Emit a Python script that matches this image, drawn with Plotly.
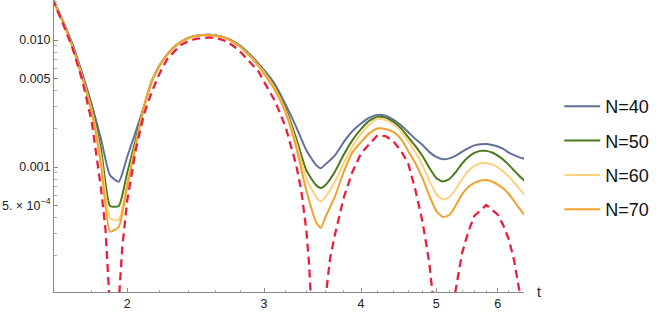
import plotly.graph_objects as go

# ---- data ----
t_n = [1.6, 1.65, 1.7, 1.75, 1.8, 1.85, 1.9, 1.95, 2.0, 2.05, 2.1, 2.15, 2.2, 2.25, 2.3, 2.35,
       2.4, 2.45, 2.5, 2.55, 2.6, 2.65, 2.7, 2.75, 2.8, 2.85, 2.9, 2.95, 3.0, 3.1, 3.2, 3.3,
       3.4, 3.5, 3.55, 3.6, 3.7, 3.8, 3.9, 4.0, 4.1, 4.2, 4.3, 4.4, 4.5, 4.6, 4.7, 4.8, 4.9,
       5.0, 5.1, 5.2, 5.3, 5.4, 5.5, 5.6, 5.7, 5.8, 5.9, 6.0, 6.1, 6.2, 6.3, 6.4, 6.5]

n40 = [0.0218, 0.0144, 0.00927, 0.00544, 0.0031, 0.00166, 0.00086, 0.000766, 0.00121, 0.00189,
       0.00296, 0.00475, 0.0063, 0.00768, 0.00886, 0.00978, 0.01042, 0.0108, 0.01096, 0.0110,
       0.01087, 0.01062, 0.0102, 0.00962, 0.00897, 0.00812, 0.00735, 0.00653, 0.00581, 0.00446,
       0.00308, 0.00207, 0.00136, 0.00104, 0.000977, 0.00105, 0.00123, 0.00157, 0.00192, 0.0022,
       0.00245, 0.00257, 0.00253, 0.00236, 0.00214, 0.00189, 0.00166, 0.00149, 0.00131, 0.0012,
       0.00115, 0.00117, 0.00123, 0.00132, 0.00141, 0.00148, 0.00151, 0.00152, 0.00149, 0.00145,
       0.00139, 0.0013, 0.00124, 0.00119, 0.00116]

n50 = [0.0216, 0.0142, 0.0090, 0.0052, 0.0029, 0.00138, 0.000493, 0.000493, 0.000905, 0.00164,
       0.00294, 0.00472, 0.00627, 0.00765, 0.00884, 0.00976, 0.0104, 0.01078, 0.01094, 0.01098,
       0.01084, 0.01058, 0.01015, 0.00955, 0.00888, 0.00801, 0.00722, 0.0064, 0.00565, 0.00427,
       0.00286, 0.00169, 0.000946, 0.000721, 0.000684, 0.000721, 0.000914, 0.00125, 0.00163, 0.00199,
       0.00232, 0.00248, 0.00245, 0.00228, 0.00203, 0.00172, 0.00146, 0.00122, 0.000982, 0.000819,
       0.000769, 0.000805, 0.000914, 0.00107, 0.0012, 0.00129, 0.00134, 0.00134, 0.0013, 0.00123,
       0.00114, 0.00104, 0.000937, 0.000849, 0.000776]

n60 = [0.0214, 0.0141, 0.0089, 0.0051, 0.00278, 0.0012, 0.000395, 0.000383, 0.000764, 0.00151,
       0.00293, 0.0047, 0.00625, 0.00763, 0.00882, 0.00974, 0.01038, 0.01076, 0.01092, 0.01096,
       0.01082, 0.01056, 0.01012, 0.0095, 0.00882, 0.00795, 0.00715, 0.00633, 0.0056, 0.00415,
       0.00276, 0.00155, 0.000819, 0.000581, 0.000535, 0.000581, 0.000762, 0.00107, 0.00146, 0.00182,
       0.00216, 0.00241, 0.00234, 0.00218, 0.00192, 0.0016, 0.00131, 0.00104, 0.000777, 0.000613,
       0.000554, 0.000581, 0.000671, 0.000805, 0.000931, 0.00102, 0.00107, 0.00107, 0.00105, 0.000992,
       0.000922, 0.000842, 0.000755, 0.000671, 0.000603]

n70 = [0.0213, 0.0140, 0.0088, 0.0050, 0.00267, 0.00104, 0.00031, 0.000337, 0.000713, 0.00145,
       0.00292, 0.00468, 0.00624, 0.00762, 0.00881, 0.00973, 0.01037, 0.01075, 0.01091, 0.01095,
       0.0108, 0.01054, 0.01009, 0.00947, 0.00878, 0.0079, 0.00709, 0.00626, 0.00543, 0.00402,
       0.00266, 0.00144, 0.000659, 0.000369, 0.000331, 0.000404, 0.000581, 0.000914, 0.00131, 0.00157,
       0.00184, 0.00201, 0.00199, 0.00189, 0.00167, 0.00134, 0.00107, 0.000818, 0.000591, 0.000451,
       0.000404, 0.000419, 0.000502, 0.000612, 0.000696, 0.000749, 0.000783, 0.000791, 0.000769, 0.000728,
       0.000677, 0.000613, 0.000539, 0.000471, 0.000419]

t_exact = [1.6, 1.65, 1.7, 1.75, 1.8, 1.85, 1.875, 1.895, 1.923, 1.953, 1.97, 2.0, 2.05, 2.1, 2.15,
           2.2, 2.25, 2.3, 2.35, 2.4, 2.45, 2.5, 2.55, 2.6, 2.65, 2.7, 2.75, 2.8, 2.85, 2.9, 2.95,
           3.0, 3.1, 3.2, 3.3, 3.35, 3.4, 3.43, 3.445, 3.525, 3.605, 3.65, 3.7, 3.8, 3.9, 4.0, 4.1,
           4.2, 4.3, 4.4, 4.5, 4.6, 4.7, 4.8, 4.85, 4.9, 4.945, 5.12, 5.285, 5.35, 5.4, 5.5, 5.6,
           5.7, 5.8, 5.9, 6.0, 6.1, 6.2, 6.3, 6.4, 6.5]
exact = [0.0212, 0.01377, 0.00864, 0.00483, 0.00226, 0.00068, 0.00032, 0.0001, 1e-7, 0.0001,
         0.00023, 0.00055, 0.00135, 0.00257, 0.0039, 0.00543, 0.00702, 0.00815, 0.00922, 0.00982,
         0.01021, 0.0104, 0.0105, 0.01033, 0.01004, 0.00955, 0.00881, 0.008, 0.00716, 0.00638,
         0.00568, 0.00469, 0.0033, 0.00205, 0.00104, 0.000659, 0.000325, 0.000169, 0.0001, 1e-7,
         0.0001, 0.000192, 0.000289, 0.000573, 0.000918, 0.00128, 0.00152, 0.00178, 0.00175, 0.0016,
         0.00135, 0.00107, 0.000659, 0.000371, 0.000254, 0.000173, 0.0001, 1e-7, 0.0001, 0.000155,
         0.000212, 0.000311, 0.000414, 0.000455, 0.000502, 0.000461, 0.000421, 0.000348, 0.00027,
         0.000183, 0.000105, 0.00002]

series_names = ["N=40", "N=50", "N=60", "N=70"]
series_vals = [n40, n50, n60, n70]
series_colors = ["#62709a", "#4b7a1c", "#fdd17e", "#f2a22c"]
exact_color = "#e8203c"

x_ticks = [2, 3, 4, 5, 6]
x_ticktext = ["2", "3", "4", "5", "6"]
x_minor = [1.8, 2.2, 2.4, 2.6, 2.8, 3.2, 3.4, 3.6, 3.8, 4.2, 4.4, 4.6, 4.8,
           5.2, 5.4, 5.6, 5.8, 6.2, 6.4]
y_ticks = [0.01, 0.005, 0.001, 0.0005]
y_ticktext = ["0.010", "0.005", "0.001", "5. × 10<sup>−4</sup>"]
y_minor = [0.0002, 0.0003, 0.0004, 0.0006, 0.0007, 0.0008, 0.0009,
           0.002, 0.003, 0.004, 0.006, 0.007, 0.008, 0.009, 0.02]

fig = go.Figure()
for name, vals, col in zip(series_names, series_vals, series_colors):
    fig.add_trace(go.Scatter(x=t_n, y=vals, mode="lines", name=name,
                             line=dict(color=col, width=2, shape="spline", smoothing=0.5),
                             legendgroup=name))
fig.add_trace(go.Scatter(x=t_exact, y=exact, mode="lines", showlegend=False,
                         line=dict(color=exact_color, width=2.3, dash="8px,5px")))

font_fam = "Liberation Sans, Arial, sans-serif"
fig.update_layout(
    width=663, height=315,
    margin=dict(l=54, r=139, t=0, b=23),
    paper_bgcolor="white", plot_bgcolor="white",
    font=dict(family=font_fam, size=12.5, color="#222"),
    showlegend=True,
    legend=dict(x=1.075, y=0.459, xanchor="left", yanchor="middle",
                font=dict(size=18, color="#111"), tracegroupgap=8, itemwidth=36,
                bgcolor="rgba(0,0,0,0)"),
    xaxis=dict(type="log", range=[0.2066, 0.8120], showgrid=False, zeroline=False,
               showline=True, linecolor="#8a8a8a", linewidth=1,
               tickmode="array", tickvals=x_ticks, ticktext=x_ticktext,
               ticks="inside", ticklen=4, tickcolor="#8a8a8a", tickwidth=1,
               minor=dict(tickmode="array", tickvals=x_minor, ticks="inside", ticklen=2.5,
                          tickcolor="#aaaaaa", showgrid=False),
               tickfont=dict(size=12.5, color="#222")),
    yaxis=dict(type="log", range=[-3.984, -1.685], showgrid=False, zeroline=False,
               showline=True, linecolor="#8a8a8a", linewidth=1,
               tickmode="array", tickvals=y_ticks, ticktext=y_ticktext,
               ticks="inside", ticklen=4, tickcolor="#8a8a8a", tickwidth=1,
               minor=dict(tickmode="array", tickvals=y_minor, ticks="inside", ticklen=2.5,
                          tickcolor="#aaaaaa", showgrid=False),
               tickfont=dict(size=12.5, color="#222")),
    annotations=[dict(text="t", xref="paper", yref="paper", x=1.031, y=0.0,
                      xanchor="center", yanchor="middle", showarrow=False,
                      font=dict(size=14, color="#222"))],
)

fig.write_html("out.html")
